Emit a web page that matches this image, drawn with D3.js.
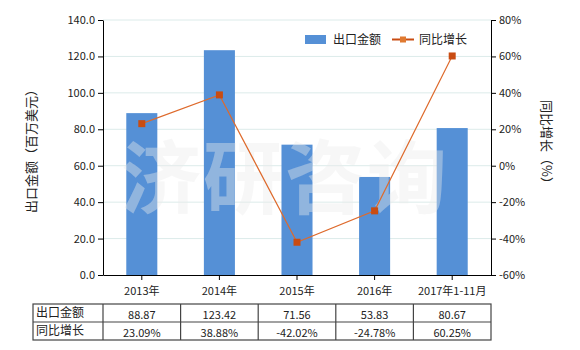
<!DOCTYPE html>
<html>
<head>
<meta charset="utf-8">
<script src="https://cdn.jsdelivr.net/npm/d3@7"></script>
<style>
body { margin: 0; background: #fff; }
text { font-family: "Noto Sans CJK SC", "DejaVu Sans", sans-serif; }
</style>
</head>
<body>
<div id="chart"></div>
<script>
var years = ["2013年", "2014年", "2015年", "2016年", "2017年1-11月"];
var amounts = [88.87, 123.42, 71.56, 53.83, 80.67];
var growth = [23.09, 38.88, -42.02, -24.78, 60.25];
var leftTicks = [0, 20, 40, 60, 80, 100, 120, 140];
var rightTicks = [-60, -40, -20, 0, 20, 40, 60, 80];

var svgwidth = 580, svgheight = 350;
var margin = {top: 20, left: 103, right: 89, bottom: 75};
var width = svgwidth - margin.left - margin.right;
var height = svgheight - margin.top - margin.bottom;

var svg = d3.select("#chart").append("svg").attr("width", svgwidth).attr("height", svgheight);
var g = svg.append("g").attr("transform", `translate(${margin.left}, ${margin.top})`);

var x = d3.scaleBand().domain(years).range([0, width]).paddingInner(0.6).paddingOuter(0.3);
var yl = d3.scaleLinear().domain([0, 140]).range([height, 0]);
var yr = d3.scaleLinear().domain([-60, 80]).range([height, 0]);
var step = x.step();

// grid
g.selectAll(".grid").data(leftTicks.slice(1)).enter().append("line")
    .attr("x1", 0).attr("x2", width).attr("y1", d => yl(d)).attr("y2", d => yl(d))
    .attr("stroke", "#dcebea").attr("stroke-width", 1);

// bars
g.selectAll(".bar").data(amounts).enter().append("rect")
    .attr("x", (d, i) => x(years[i])).attr("width", x.bandwidth())
    .attr("y", d => yl(d)).attr("height", d => height - yl(d))
    .attr("fill", "#5590d6");

// watermark
g.append("text").attr("x", 182).attr("y", 187).attr("text-anchor", "middle")
    .attr("font-size", 80).attr("font-weight", "bold").attr("letter-spacing", 2)
    .attr("fill", "rgb(236,236,236)").attr("opacity", 0.4).text("济研咨询");

// line
var cx = i => x(years[i]) + x.bandwidth() / 2;
var line = d3.line().x((d, i) => cx(i)).y(d => yr(d));
g.append("path").datum(growth).attr("d", line).attr("fill", "none")
    .attr("stroke", "#de6a2c").attr("stroke-width", 1.2);
g.selectAll(".mk").data(growth).enter().append("rect")
    .attr("x", (d, i) => cx(i) - 3.5).attr("y", d => yr(d) - 3.5)
    .attr("width", 7).attr("height", 7).attr("fill", "#c94c12");

// axes
var axl = g.append("g").call(d3.axisLeft(yl).tickValues(leftTicks).tickFormat(d3.format(".1f")).tickSize(5).tickSizeOuter(0));
var axr = g.append("g").attr("transform", `translate(${width},0)`)
    .call(d3.axisRight(yr).tickValues(rightTicks).tickFormat(d => d + "%").tickSize(5).tickSizeOuter(0));
var axb = g.append("g").attr("transform", `translate(0,${height})`)
    .call(d3.axisBottom(x).tickSize(5).tickSizeOuter(0));
[axl, axr, axb].forEach(function(a) {
    a.selectAll("path, line").attr("stroke", "#000");
    a.selectAll("text").attr("font-size", 11).attr("fill", "#222")
        .style("font-family", "'Noto Sans CJK SC', sans-serif");
});
axb.selectAll("text").attr("dy", "1.1em");

// axis titles
svg.append("text").attr("transform", "translate(36,148) rotate(-90)").attr("text-anchor", "middle")
    .attr("font-size", 13).attr("fill", "#222").text("出口金额（百万美元）");
svg.append("text").attr("transform", "translate(542,145) rotate(90)").attr("text-anchor", "middle")
    .attr("font-size", 13).attr("fill", "#222").text("同比增长（%）");

// legend
svg.append("rect").attr("x", 305).attr("y", 35).attr("width", 21).attr("height", 9).attr("fill", "#5590d6");
svg.append("text").attr("x", 333).attr("y", 44).attr("font-size", 12).attr("fill", "#222").text("出口金额");
svg.append("line").attr("x1", 392).attr("x2", 414).attr("y1", 39.5).attr("y2", 39.5)
    .attr("stroke", "#c94c12").attr("stroke-width", 2);
svg.append("rect").attr("x", 400).attr("y", 36.5).attr("width", 6).attr("height", 6).attr("fill", "#e07a30");
svg.append("text").attr("x", 419).attr("y", 44).attr("font-size", 12).attr("fill", "#222").text("同比增长");

// table
var tTop = 304, rowH = 18, tLeft = 33;
var rows = [
    {label: "出口金额", vals: amounts.map(d => d.toFixed(2))},
    {label: "同比增长", vals: growth.map(d => d.toFixed(2) + "%")}
];
var tb = svg.append("g");
tb.append("rect").attr("x", tLeft).attr("y", tTop).attr("width", margin.left + width - tLeft)
    .attr("height", rowH * 2).attr("fill", "none").attr("stroke", "#444").attr("stroke-width", 1.2);
tb.append("line").attr("x1", tLeft).attr("x2", margin.left + width).attr("y1", tTop + rowH).attr("y2", tTop + rowH)
    .attr("stroke", "#444").attr("stroke-width", 1.2);
var seps = [margin.left].concat(years.slice(1).map(y => margin.left + x(y) - step * 0.3));
tb.selectAll(".sep").data(seps).enter().append("line")
    .attr("x1", d => d).attr("x2", d => d).attr("y1", tTop).attr("y2", tTop + rowH * 2)
    .attr("stroke", "#444").attr("stroke-width", 1.2);
rows.forEach(function(r, ri) {
    var yy = tTop + rowH * ri + 13.5;
    tb.append("text").attr("x", tLeft + 3).attr("y", yy - 1).attr("font-size", 12).attr("fill", "#222").text(r.label);
    r.vals.forEach(function(v, i) {
        tb.append("text").attr("x", margin.left + cx(i)).attr("y", yy + 1).attr("text-anchor", "middle")
            .attr("font-size", 11).attr("fill", "#222").text(v);
    });
});
</script>
</body>
</html>
